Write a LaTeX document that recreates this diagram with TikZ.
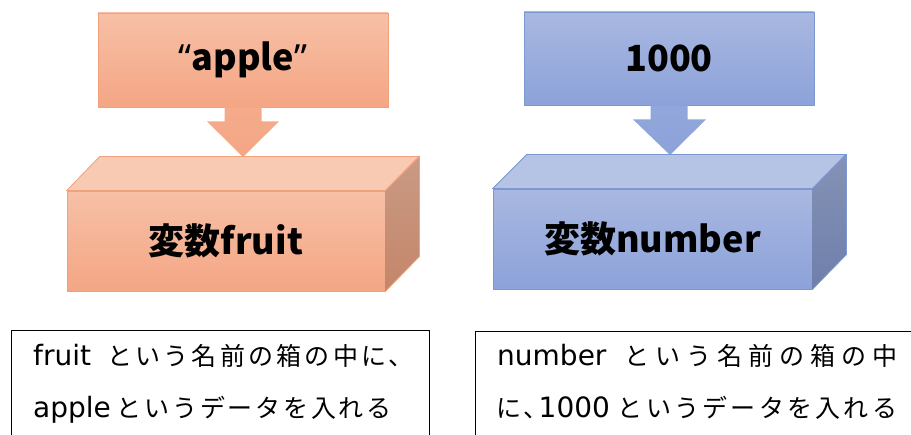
\documentclass[tikz,border=0pt]{standalone}
\usepackage{fontspec}
\newfontfamily\jp{Noto Sans CJK JP}
\newfontfamily\jpnote{Noto Sans CJK JP}
\newfontfamily\latfont{DejaVu Sans}
\newfontfamily\qt{Noto Sans}
\newcommand{\lat}[1]{{\latfont\fontsize{28}{30}\selectfont #1}}
\newcommand{\ls}[1]{\addfontfeature{LetterSpace=#1}}
\usetikzlibrary{calc}
\definecolor{otop}{HTML}{F7C0A6}
\definecolor{obot}{HTML}{F4A684}
\definecolor{oface}{HTML}{F8CAB3}
\definecolor{osidet}{HTML}{C99A84}
\definecolor{osideb}{HTML}{C4866A}
\definecolor{obord}{HTML}{F1A27C}
\definecolor{btop}{HTML}{A9B8E1}
\definecolor{bbot}{HTML}{8CA2D9}
\definecolor{bface}{HTML}{B5C3E5}
\definecolor{bsidet}{HTML}{8592B5}
\definecolor{bsideb}{HTML}{6E7FAB}
\definecolor{bbord}{HTML}{7C97D2}
\begin{document}
\begin{tikzpicture}[x=1pt,y=-1pt,
  valbox/.style={minimum width=290pt,minimum height=94pt,inner sep=0pt,line width=0.8pt,
    font=\jp\bfseries\fontsize{36}{42}\selectfont},
  frontbox/.style={minimum width=318pt,minimum height=100pt,inner sep=0pt,line width=0.8pt,
    font=\jp\bfseries\fontsize{36}{42}\selectfont},
  notebox/.style={draw=black,line width=1.3pt,minimum width=418pt,minimum height=130pt,inner sep=0pt,anchor=north west},
  notetext/.style={anchor=base west,inner sep=0pt,font=\jpnote\fontsize{25}{30}\selectfont}]
\useasboundingbox (0,0) rectangle (911,435);
\clip (0,0) rectangle (911,435);

% ---------- left (orange) ----------
\node[valbox,draw=obord,top color=otop,bottom color=obot] (valL) at (243,60) {{\qt\bfseries “}apple{\qt\bfseries ”}};
\coordinate (tipL) at (243,157);
\shade[top color=obot!80!otop,bottom color=obot]
  ($(valL.south)+(-18.5,0)$) -- ($(valL.south)+(18.5,0)$) -- ($(valL.south)+(18.5,14)$)
  -- ($(valL.south)+(36,14)$) -- (tipL) -- ($(valL.south)+(-36,14)$) -- ($(valL.south)+(-18.5,14)$) -- cycle;
\node[frontbox,draw=obord,top color=otop,bottom color=obot] (boxL) at (226,241) {\raisebox{3pt}{変数fruit}};
\filldraw[fill=oface,draw=obord,line width=0.8pt] (boxL.north west) -- ++(33,-34) -- ++(319,0) -- (boxL.north east) -- cycle;
\shade[top color=osidet,bottom color=osideb] (boxL.north east) -- ++(34,-34) -- ++(0,100) -- (boxL.south east) -- cycle;
\draw[obord,line width=0.8pt] (boxL.north east) -- ++(34,-34) -- ++(0,100) -- (boxL.south east);

% ---------- right (blue) ----------
\node[valbox,draw=bbord,top color=btop,bottom color=bbot,minimum height=93pt] (valR) at (669,58.5) {1000};
\coordinate (tipR) at (670,155);
\shade[top color=bbot!80!btop,bottom color=bbot]
  ($(valR.south)+(-18.5,0)$) -- ($(valR.south)+(18.5,0)$) -- ($(valR.south)+(18.5,14)$)
  -- ($(valR.south)+(37,14)$) -- (tipR) -- ($(valR.south)+(-36,14)$) -- ($(valR.south)+(-18.5,14)$) -- cycle;
\node[frontbox,draw=bbord,top color=btop,bottom color=bbot,minimum width=319pt] (boxR) at (652.5,239) {\raisebox{3pt}{変数number}};
\filldraw[fill=bface,draw=bbord,line width=0.8pt] (boxR.north west) -- ++(34,-34) -- ++(319,0) -- (boxR.north east) -- cycle;
\shade[top color=bsidet,bottom color=bsideb] (boxR.north east) -- ++(34,-34) -- ++(0,100) -- (boxR.south east) -- cycle;
\draw[bbord,line width=0.8pt] (boxR.north east) -- ++(34,-34) -- ++(0,100) -- (boxR.south east);

% ---------- notes ----------
\node[notebox] (noteL) at (11,330) {};
\node[notebox,minimum width=460pt] (noteR) at (475,331) {};
\node[notetext] (nL1) at (33,366) {\ls{13}\lat{fruit}\hspace{16pt}という名前の箱の中に、};
\node[notetext] (nL2) at (33,418) {\ls{11}\lat{apple}\hspace{6pt}というデータを入れる};
\node[notetext] (nR1) at (497,366) {\ls{24}\lat{number}\hspace{18pt}という名前の箱の中};
\node[notetext] (nR2) at (496,418) {\ls{13}に、\hspace{-10pt}\lat{1000}\hspace{8pt}というデータを入れる};
\end{tikzpicture}
\end{document}
